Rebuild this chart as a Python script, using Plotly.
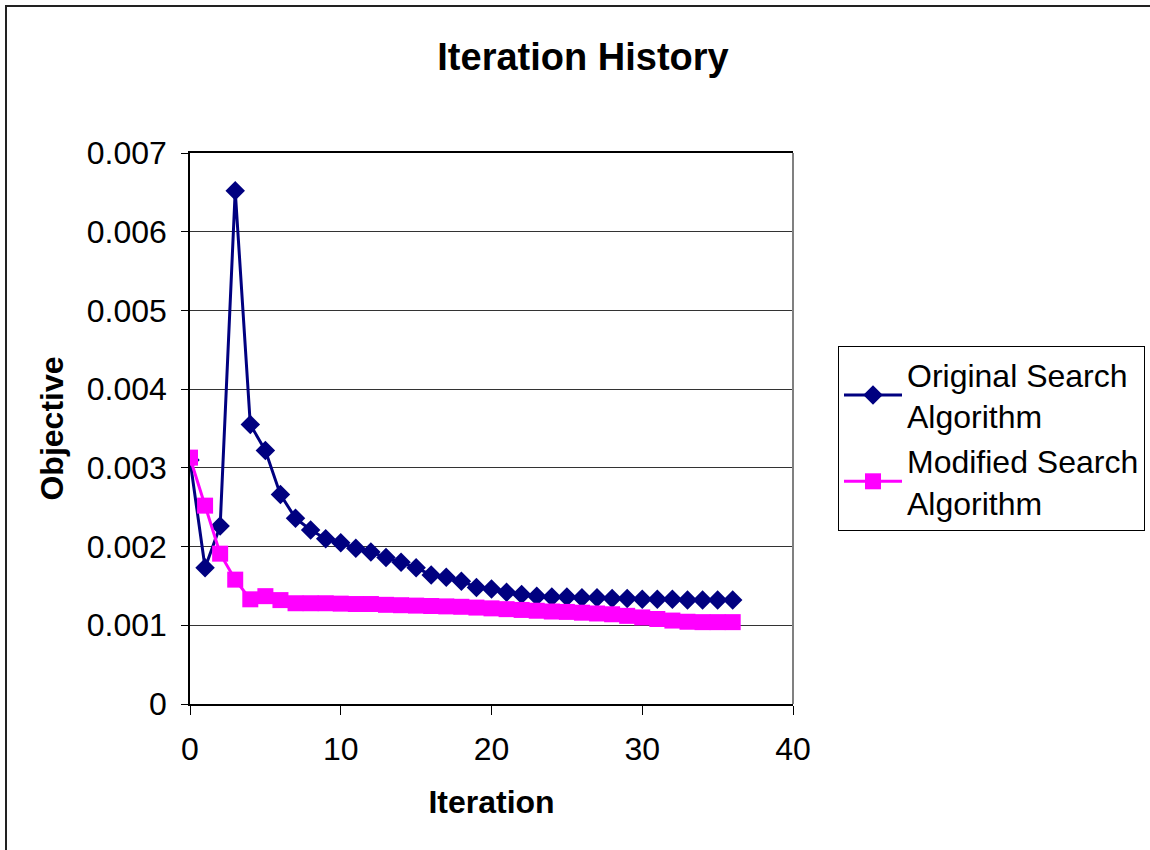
import plotly.graph_objects as go

iterations = list(range(37))

original_search = [
    0.00310, 0.00173, 0.00226, 0.00652, 0.00355, 0.00322, 0.00266, 0.00236,
    0.00221, 0.00210, 0.00205, 0.00198, 0.00193, 0.00186, 0.00180, 0.00173,
    0.00164, 0.00161, 0.00156, 0.00148, 0.00146, 0.00142, 0.00139, 0.00137,
    0.00136, 0.00136, 0.00135, 0.00135, 0.00134, 0.00134, 0.00133, 0.00133,
    0.00133, 0.00132, 0.00132, 0.00132, 0.00132,
]

modified_search = [
    0.00313, 0.00252, 0.00191, 0.00158, 0.00133, 0.00137, 0.00132, 0.00128,
    0.00128, 0.00128, 0.001275, 0.00127, 0.00127, 0.00126, 0.001255, 0.00125,
    0.001245, 0.00124, 0.001235, 0.001225, 0.001215, 0.001205, 0.001195, 0.001185,
    0.001175, 0.00117, 0.00116, 0.00115, 0.00114, 0.00112, 0.00110, 0.00108,
    0.00106, 0.001045, 0.00104, 0.00104, 0.00104,
]

x_ticks = [0, 10, 20, 30, 40]
y_ticks = [0, 0.001, 0.002, 0.003, 0.004, 0.005, 0.006, 0.007]
y_tick_labels = ["0", "0.001", "0.002", "0.003", "0.004", "0.005", "0.006", "0.007"]

FONT = "Liberation Sans, Arial, sans-serif"

fig = go.Figure()

fig.add_trace(go.Scatter(
    x=iterations, y=original_search, mode="lines+markers",
    name="Original Search<br>Algorithm",
    line=dict(color="#000080", width=3),
    marker=dict(symbol="diamond", size=15, color="#000080"),
))
fig.add_trace(go.Scatter(
    x=iterations, y=modified_search, mode="lines+markers",
    name="Modified Search<br>Algorithm",
    line=dict(color="#FF00FF", width=3),
    marker=dict(symbol="square", size=16, color="#FF00FF"),
))

fig.update_layout(
    width=1150, height=850,
    margin=dict(l=190, r=357, t=153, b=146, autoexpand=False),
    paper_bgcolor="white", plot_bgcolor="white",
    font=dict(family=FONT, color="black", size=32),
    title=dict(text="<b>Iteration History</b>", x=583 / 1150, xanchor="center",
               y=1 - 57 / 850, yanchor="middle", font=dict(size=38, family=FONT)),
    legend=dict(x=(838 - 190) / 603, xanchor="left", y=1 - (346 - 153) / 551, yanchor="top",
                bordercolor="black", borderwidth=1, bgcolor="white",
                font=dict(size=32, family=FONT), tracegroupgap=0,
                itemwidth=58),
    showlegend=True,
)

fig.update_xaxes(
    range=[0, 40], tickvals=x_ticks, showgrid=False, zeroline=False,
    showline=True, linecolor="black", linewidth=1.5, mirror=True,
    ticks="outside", ticklen=9, tickcolor="black",
    tickfont=dict(size=32, family=FONT), ticklabelstandoff=7,
    title=dict(text="<b>Iteration</b>", font=dict(size=32, family=FONT), standoff=24),
)
fig.update_yaxes(
    range=[0, 0.007], tickvals=y_ticks, ticktext=y_tick_labels,
    showgrid=True, gridcolor="#333333", gridwidth=1, zeroline=False,
    showline=True, linecolor="black", linewidth=1.5,
    ticks="outside", ticklen=7, tickcolor="black",
    tickfont=dict(size=32, family=FONT), ticklabelstandoff=8,
    title=dict(text="<b>Objective</b>", font=dict(size=32, family=FONT), standoff=14),
)

# gray right edge of the plotting area
fig.add_shape(type="line", xref="paper", yref="paper", x0=1, x1=1, y0=0, y1=1,
              line=dict(color="#808080", width=2))

# outer chart border
fig.add_shape(type="rect", xref="paper", yref="paper",
              x0=(6 - 190) / 603, x1=1.7, y0=-0.6, y1=1 + (153 - 6) / 551,
              line=dict(color="#222222", width=2), fillcolor="rgba(0,0,0,0)", layer="below")

fig.write_html("out.html")
